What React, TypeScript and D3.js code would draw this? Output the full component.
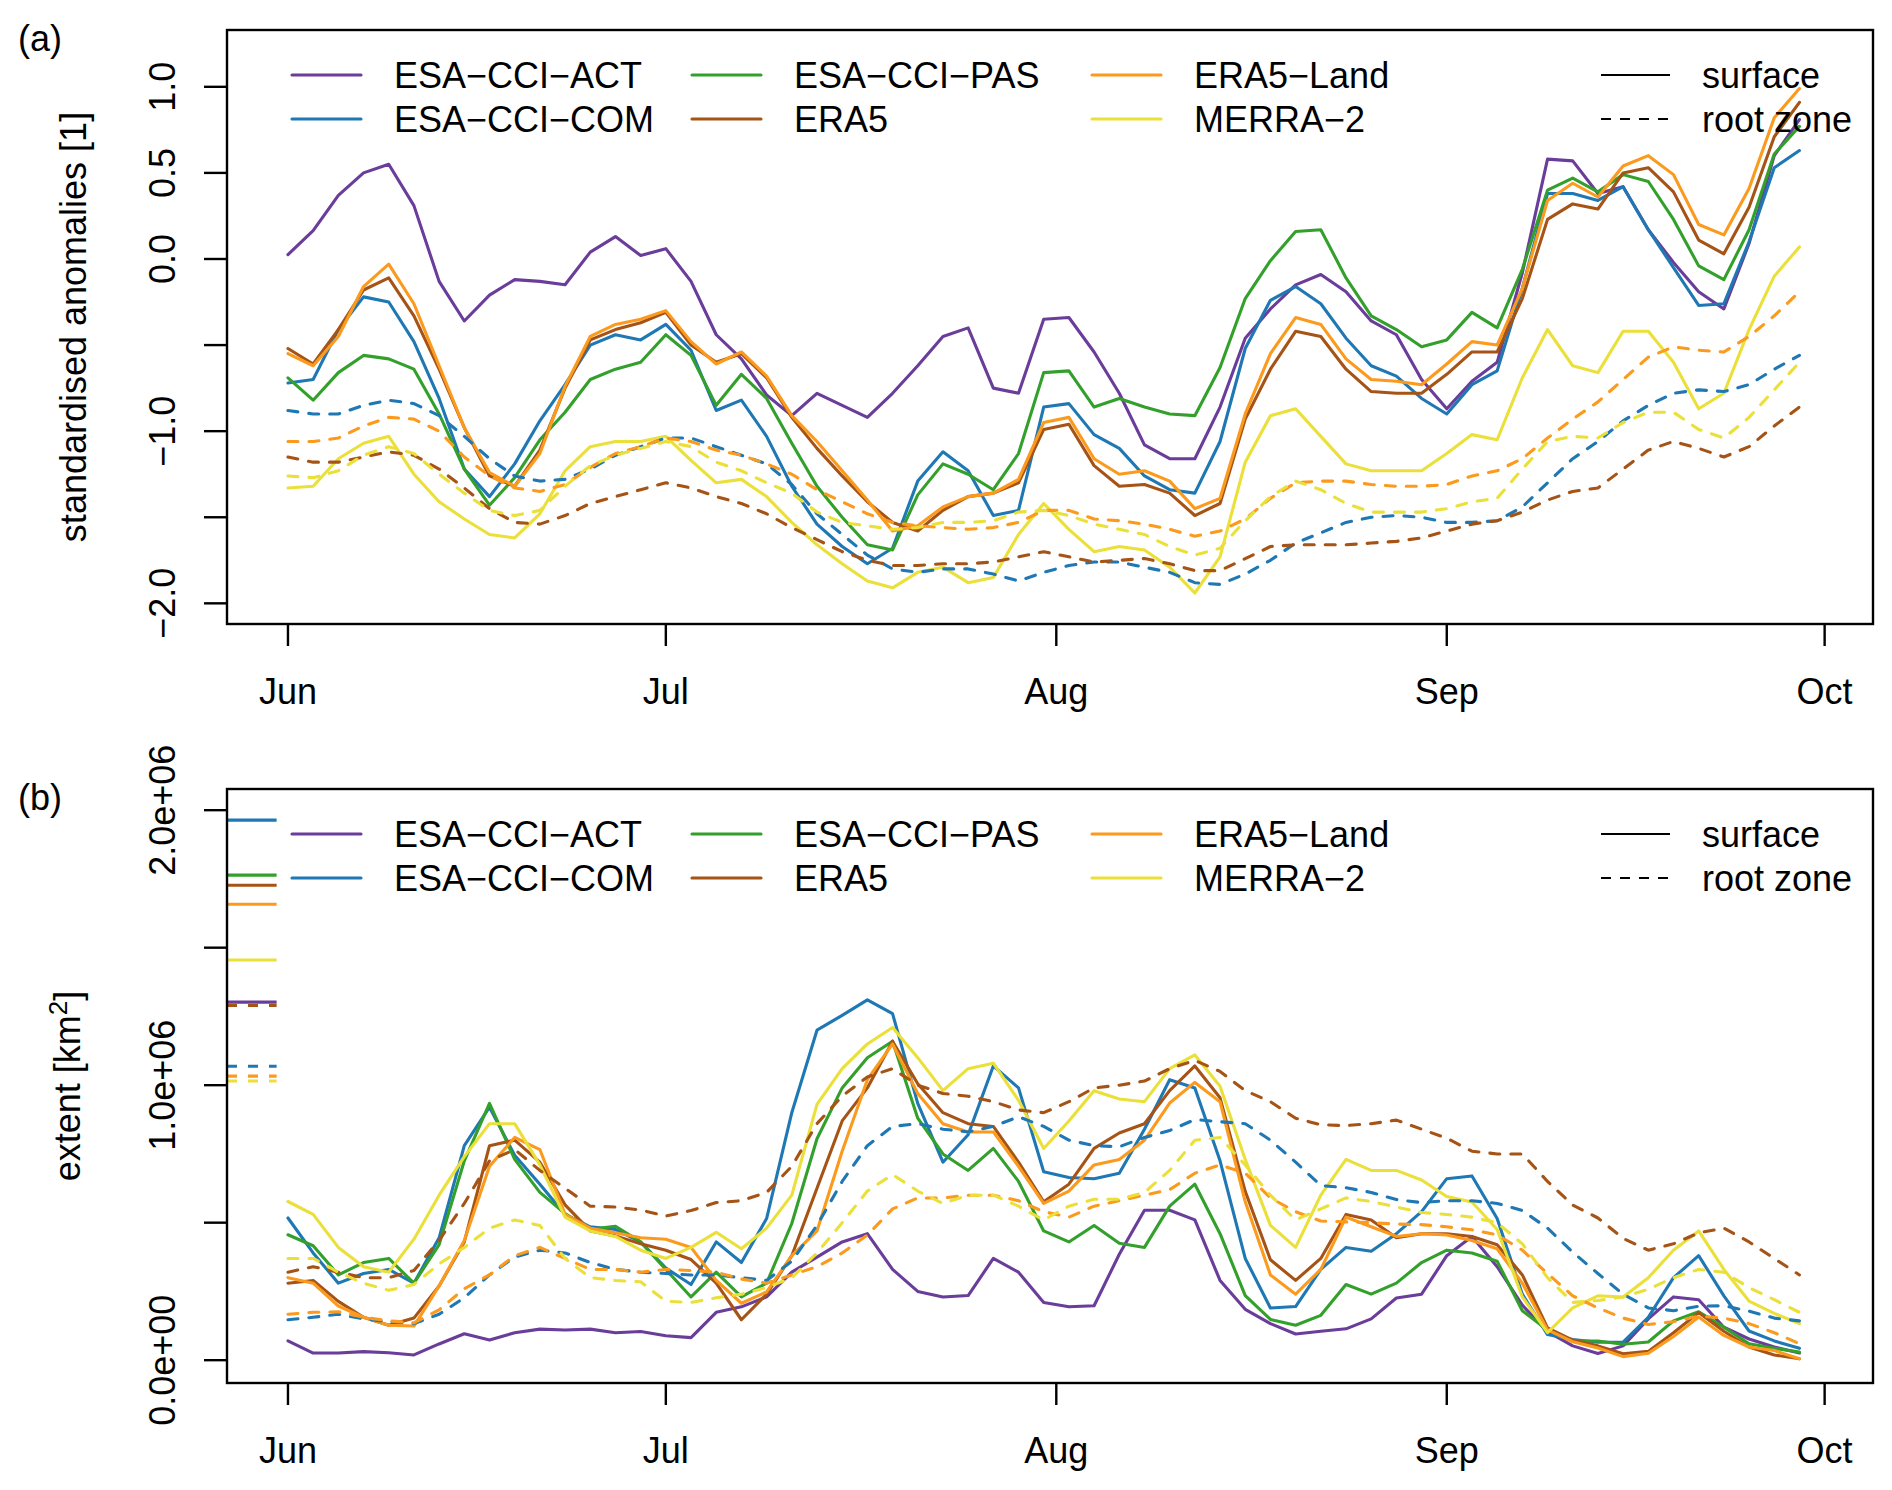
import React from 'react';
import * as d3 from 'd3';

// sample days counted from 1 June (every second day up to 29 September)
const days = d3.range(0, 121, 2);

const monthTicks = [0, 30, 61, 92, 122];
const monthLabels = ['Jun', 'Jul', 'Aug', 'Sep', 'Oct'];

const productNames = ['ESA\u2212CCI\u2212ACT', 'ESA\u2212CCI\u2212COM', 'ESA\u2212CCI\u2212PAS', 'ERA5', 'ERA5\u2212Land', 'MERRA\u22122'];
const productColors = ['#6a3d9a', '#1f78b4', '#33a02c', '#a65316', '#fb9a1d', '#ebe03a'];

// (a) standardised anomalies, surface layer
const anomACT = [0.025, 0.165, 0.37, 0.50, 0.55, 0.31, -0.13, -0.36, -0.21, -0.12, -0.13, -0.15, 0.04, 0.13, 0.02, 0.06, -0.13, -0.44, -0.58, -0.79, -0.91,
  -0.78, -0.85, -0.92, -0.78, -0.62, -0.45, -0.40, -0.75, -0.78, -0.35, -0.34, -0.54, -0.78, -1.08, -1.16, -1.16, -0.86, -0.46, -0.29, -0.15,
  -0.09, -0.19, -0.36, -0.44, -0.70, -0.87, -0.71, -0.60, -0.08, 0.58, 0.57, 0.38, 0.42, 0.17, -0.02, -0.19, -0.29, 0.09, 0.60, 0.81];
const anomCOM = [-0.72, -0.70, -0.41, -0.22, -0.25, -0.48, -0.81, -1.22, -1.38, -1.19, -0.94, -0.73, -0.50, -0.44, -0.47, -0.38, -0.53, -0.88, -0.82, -1.03, -1.32,
  -1.54, -1.67, -1.77, -1.68, -1.29, -1.12, -1.23, -1.49, -1.46, -0.86, -0.84, -1.02, -1.10, -1.26, -1.34, -1.36, -1.06, -0.52, -0.24, -0.16,
  -0.26, -0.46, -0.62, -0.68, -0.81, -0.90, -0.73, -0.65, -0.17, 0.38, 0.38, 0.34, 0.42, 0.17, -0.05, -0.27, -0.26, 0.10, 0.53, 0.63];
const anomPAS = [-0.69, -0.82, -0.66, -0.56, -0.58, -0.64, -0.90, -1.22, -1.43, -1.27, -1.05, -0.89, -0.70, -0.64, -0.60, -0.44, -0.56, -0.85, -0.67, -0.81, -1.07,
  -1.32, -1.50, -1.66, -1.69, -1.37, -1.19, -1.25, -1.34, -1.13, -0.66, -0.65, -0.86, -0.81, -0.86, -0.90, -0.91, -0.63, -0.23, -0.01, 0.16,
  0.17, -0.11, -0.33, -0.41, -0.51, -0.47, -0.31, -0.40, -0.06, 0.40, 0.47, 0.39, 0.49, 0.45, 0.23, -0.04, -0.12, 0.17, 0.61, 0.77];
const anomERA5 = [-0.52, -0.61, -0.41, -0.18, -0.11, -0.33, -0.64, -0.98, -1.26, -1.32, -1.11, -0.75, -0.47, -0.41, -0.37, -0.31, -0.50, -0.60, -0.55, -0.69, -0.92,
  -1.10, -1.26, -1.41, -1.53, -1.58, -1.46, -1.38, -1.36, -1.30, -0.99, -0.96, -1.20, -1.32, -1.31, -1.36, -1.49, -1.42, -0.93, -0.64, -0.42,
  -0.45, -0.64, -0.77, -0.78, -0.78, -0.67, -0.54, -0.54, -0.23, 0.23, 0.32, 0.29, 0.50, 0.53, 0.39, 0.11, 0.03, 0.30, 0.71, 0.91];
const anomERA5L = [-0.55, -0.62, -0.45, -0.16, -0.03, -0.26, -0.62, -0.98, -1.24, -1.32, -1.13, -0.74, -0.45, -0.38, -0.35, -0.30, -0.48, -0.61, -0.54, -0.68, -0.91,
  -1.06, -1.23, -1.40, -1.58, -1.55, -1.44, -1.38, -1.36, -1.28, -0.95, -0.92, -1.16, -1.25, -1.23, -1.29, -1.45, -1.39, -0.90, -0.55, -0.34,
  -0.38, -0.58, -0.70, -0.71, -0.73, -0.61, -0.48, -0.50, -0.17, 0.34, 0.44, 0.36, 0.54, 0.60, 0.49, 0.20, 0.14, 0.41, 0.82, 0.99];
const anomMERRA = [-1.33, -1.32, -1.16, -1.07, -1.03, -1.25, -1.41, -1.51, -1.60, -1.62, -1.48, -1.23, -1.09, -1.06, -1.06, -1.03, -1.17, -1.30, -1.28, -1.38, -1.53,
  -1.66, -1.77, -1.87, -1.91, -1.82, -1.79, -1.88, -1.85, -1.60, -1.42, -1.57, -1.70, -1.67, -1.69, -1.79, -1.94, -1.73, -1.18, -0.91, -0.87,
  -1.03, -1.19, -1.23, -1.23, -1.23, -1.13, -1.02, -1.05, -0.69, -0.41, -0.62, -0.66, -0.42, -0.42, -0.60, -0.87, -0.78, -0.41, -0.10, 0.07];

// (a) standardised anomalies, root zone
const anomRootCOM = [-0.88, -0.90, -0.90, -0.85, -0.82, -0.84, -0.91, -1.03, -1.16, -1.26, -1.29, -1.28, -1.22, -1.14, -1.09, -1.04, -1.04, -1.09, -1.14, -1.19, -1.31,
  -1.48, -1.60, -1.72, -1.80, -1.82, -1.80, -1.80, -1.83, -1.87, -1.82, -1.78, -1.76, -1.76, -1.79, -1.82, -1.88, -1.89, -1.83, -1.75, -1.65,
  -1.59, -1.53, -1.50, -1.49, -1.50, -1.53, -1.53, -1.52, -1.44, -1.30, -1.16, -1.06, -0.94, -0.85, -0.78, -0.76, -0.77, -0.73, -0.64, -0.56];
const anomRootERA5 = [-1.15, -1.18, -1.18, -1.15, -1.12, -1.14, -1.22, -1.33, -1.45, -1.53, -1.54, -1.49, -1.42, -1.38, -1.34, -1.30, -1.33, -1.38, -1.42, -1.48, -1.56,
  -1.63, -1.70, -1.75, -1.78, -1.78, -1.77, -1.77, -1.76, -1.73, -1.70, -1.73, -1.76, -1.75, -1.74, -1.77, -1.81, -1.81, -1.74, -1.67, -1.66,
  -1.66, -1.66, -1.65, -1.64, -1.62, -1.58, -1.54, -1.52, -1.47, -1.40, -1.35, -1.33, -1.22, -1.11, -1.06, -1.10, -1.15, -1.09, -0.97, -0.86];
const anomRootERA5L = [-1.06, -1.06, -1.04, -0.97, -0.92, -0.93, -1.00, -1.15, -1.26, -1.33, -1.35, -1.31, -1.21, -1.13, -1.09, -1.04, -1.06, -1.11, -1.14, -1.19, -1.25,
  -1.34, -1.41, -1.48, -1.53, -1.55, -1.56, -1.57, -1.56, -1.53, -1.46, -1.46, -1.51, -1.52, -1.54, -1.57, -1.61, -1.58, -1.51, -1.39, -1.30,
  -1.29, -1.29, -1.31, -1.32, -1.32, -1.31, -1.26, -1.23, -1.16, -1.04, -0.93, -0.83, -0.70, -0.57, -0.51, -0.53, -0.54, -0.45, -0.33, -0.19];
const anomRootMERRA = [-1.26, -1.27, -1.23, -1.14, -1.09, -1.13, -1.25, -1.36, -1.46, -1.49, -1.46, -1.32, -1.20, -1.14, -1.10, -1.06, -1.09, -1.18, -1.23, -1.30, -1.36,
  -1.47, -1.53, -1.55, -1.57, -1.56, -1.53, -1.53, -1.52, -1.47, -1.46, -1.49, -1.54, -1.57, -1.60, -1.67, -1.72, -1.68, -1.52, -1.38, -1.29,
  -1.34, -1.42, -1.47, -1.47, -1.47, -1.45, -1.41, -1.39, -1.22, -1.06, -1.03, -1.04, -0.95, -0.89, -0.89, -0.99, -1.04, -0.92, -0.76, -0.60];

// (b) drought extent in million km2, surface layer
const extACT = [0.07, 0.026, 0.026, 0.031, 0.027, 0.019, 0.059, 0.096, 0.073, 0.10, 0.113, 0.11, 0.113, 0.10, 0.104, 0.089, 0.082, 0.174, 0.194, 0.23, 0.32,
  0.375, 0.43, 0.46, 0.33, 0.25, 0.23, 0.235, 0.37, 0.32, 0.21, 0.194, 0.198, 0.385, 0.545, 0.545, 0.51, 0.29, 0.185, 0.133, 0.095,
  0.105, 0.114, 0.15, 0.226, 0.24, 0.38, 0.45, 0.34, 0.20, 0.104, 0.052, 0.024, 0.052, 0.15, 0.23, 0.22, 0.12, 0.077, 0.048, 0.026];
const extCOM = [0.517, 0.39, 0.28, 0.315, 0.33, 0.28, 0.445, 0.78, 0.92, 0.745, 0.64, 0.53, 0.485, 0.475, 0.43, 0.335, 0.275, 0.43, 0.355, 0.515, 0.90,
  1.20, 1.254, 1.31, 1.26, 0.934, 0.72, 0.82, 1.07, 0.99, 0.685, 0.664, 0.66, 0.68, 0.84, 1.02, 0.99, 0.725, 0.37, 0.19, 0.195,
  0.33, 0.41, 0.396, 0.46, 0.54, 0.66, 0.67, 0.515, 0.24, 0.093, 0.075, 0.065, 0.066, 0.156, 0.30, 0.38, 0.234, 0.106, 0.07, 0.043];
const extPAS = [0.456, 0.416, 0.31, 0.355, 0.37, 0.28, 0.42, 0.725, 0.934, 0.73, 0.61, 0.533, 0.476, 0.487, 0.43, 0.33, 0.23, 0.32, 0.23, 0.28, 0.497,
  0.805, 0.99, 1.10, 1.16, 0.88, 0.75, 0.69, 0.77, 0.65, 0.47, 0.43, 0.49, 0.425, 0.41, 0.56, 0.64, 0.46, 0.235, 0.148, 0.127,
  0.163, 0.275, 0.24, 0.28, 0.355, 0.40, 0.39, 0.36, 0.18, 0.11, 0.07, 0.07, 0.058, 0.066, 0.143, 0.176, 0.12, 0.06, 0.043, 0.03];
const extERA5 = [0.28, 0.29, 0.214, 0.156, 0.127, 0.153, 0.27, 0.43, 0.78, 0.80, 0.72, 0.565, 0.47, 0.452, 0.423, 0.40, 0.366, 0.28, 0.147, 0.24, 0.38,
  0.625, 0.87, 0.99, 1.16, 1.005, 0.90, 0.86, 0.85, 0.72, 0.576, 0.64, 0.77, 0.826, 0.86, 0.98, 1.07, 0.954, 0.614, 0.365, 0.29,
  0.37, 0.53, 0.51, 0.445, 0.46, 0.46, 0.45, 0.42, 0.31, 0.117, 0.073, 0.052, 0.023, 0.032, 0.10, 0.173, 0.105, 0.048, 0.019, 0.005];
const extERA5L = [0.30, 0.28, 0.197, 0.156, 0.127, 0.124, 0.27, 0.435, 0.705, 0.81, 0.766, 0.53, 0.48, 0.463, 0.445, 0.44, 0.41, 0.29, 0.207, 0.248, 0.38,
  0.47, 0.76, 1.02, 1.15, 0.97, 0.86, 0.83, 0.83, 0.705, 0.57, 0.615, 0.71, 0.73, 0.80, 0.935, 1.01, 0.94, 0.576, 0.31, 0.24,
  0.33, 0.52, 0.485, 0.45, 0.46, 0.455, 0.435, 0.405, 0.28, 0.11, 0.067, 0.044, 0.013, 0.025, 0.086, 0.157, 0.09, 0.048, 0.035, 0.005];
const extMERRA = [0.577, 0.53, 0.41, 0.34, 0.32, 0.44, 0.60, 0.74, 0.86, 0.86, 0.71, 0.52, 0.47, 0.45, 0.40, 0.37, 0.41, 0.465, 0.405, 0.48, 0.60,
  0.93, 1.06, 1.15, 1.21, 1.10, 0.98, 1.06, 1.08, 0.945, 0.77, 0.87, 0.98, 0.95, 0.94, 1.06, 1.11, 0.996, 0.73, 0.49, 0.41,
  0.60, 0.73, 0.69, 0.69, 0.655, 0.595, 0.575, 0.475, 0.23, 0.10, 0.19, 0.234, 0.23, 0.30, 0.40, 0.47, 0.33, 0.215, 0.17, 0.133];

// (b) drought extent in million km2, root zone
const extRootCOM = [0.147, 0.156, 0.167, 0.15, 0.14, 0.133, 0.167, 0.227, 0.31, 0.375, 0.40, 0.39, 0.355, 0.33, 0.32, 0.315, 0.31, 0.31, 0.30, 0.29, 0.36,
  0.49, 0.65, 0.78, 0.85, 0.86, 0.84, 0.83, 0.85, 0.885, 0.85, 0.80, 0.78, 0.776, 0.81, 0.835, 0.875, 0.867, 0.86, 0.80, 0.72,
  0.635, 0.627, 0.61, 0.584, 0.573, 0.58, 0.58, 0.57, 0.544, 0.48, 0.393, 0.315, 0.24, 0.19, 0.18, 0.196, 0.198, 0.178, 0.153, 0.143];
const extRootERA5 = [0.32, 0.34, 0.32, 0.30, 0.30, 0.326, 0.436, 0.57, 0.725, 0.766, 0.69, 0.625, 0.56, 0.557, 0.546, 0.524, 0.544, 0.573, 0.58, 0.61, 0.705,
  0.86, 0.96, 1.03, 1.06, 1.00, 0.97, 0.96, 0.94, 0.91, 0.90, 0.94, 0.99, 1.00, 1.015, 1.06, 1.09, 1.05, 0.98, 0.94, 0.88,
  0.856, 0.853, 0.86, 0.873, 0.84, 0.807, 0.76, 0.75, 0.75, 0.65, 0.564, 0.517, 0.443, 0.40, 0.423, 0.463, 0.48, 0.43, 0.37, 0.31];
const extRootERA5L = [0.167, 0.174, 0.176, 0.156, 0.143, 0.136, 0.183, 0.26, 0.31, 0.38, 0.41, 0.37, 0.33, 0.33, 0.32, 0.33, 0.326, 0.32, 0.295, 0.28, 0.31,
  0.34, 0.39, 0.455, 0.55, 0.59, 0.59, 0.60, 0.60, 0.58, 0.54, 0.52, 0.56, 0.58, 0.60, 0.62, 0.68, 0.71, 0.68, 0.59, 0.54,
  0.506, 0.503, 0.50, 0.495, 0.493, 0.485, 0.474, 0.456, 0.40, 0.315, 0.234, 0.19, 0.153, 0.13, 0.14, 0.16, 0.153, 0.133, 0.10, 0.06];
const extRootMERRA = [0.37, 0.37, 0.32, 0.28, 0.254, 0.275, 0.35, 0.41, 0.48, 0.51, 0.49, 0.37, 0.30, 0.29, 0.285, 0.214, 0.21, 0.227, 0.24, 0.264, 0.30,
  0.39, 0.50, 0.615, 0.675, 0.615, 0.57, 0.60, 0.60, 0.56, 0.51, 0.56, 0.585, 0.585, 0.61, 0.69, 0.80, 0.81, 0.71, 0.60, 0.51,
  0.55, 0.59, 0.577, 0.557, 0.537, 0.53, 0.52, 0.50, 0.423, 0.30, 0.21, 0.217, 0.23, 0.258, 0.30, 0.33, 0.32, 0.264, 0.22, 0.174];

// (b) short marks at the left edge, million km2
const coverSurface = [1.302, 1.964, 1.764, 1.727, 1.658, 1.455];
const coverRoot = [1.069, 1.29, 1.033, 1.015]; // COM, ERA5, ERA5-Land, MERRA-2
const rootProducts = [1, 3, 4, 5];

const FONT = '"Liberation Sans", Arial, Helvetica, sans-serif';
const FS = 36;
const LW = 3.1;
const DASH = '10 11';
const boxLeft = 227;
const boxRight = 1873;
const boxH = 594;

const fmtAnom = d3.format('.1f');
const fmtSci = (v: number) => {
  const [m, e] = d3.format('.1e')(v).split('e');
  const sign = e.startsWith('-') || e.startsWith('\u2212') ? '-' : '+';
  return `${m}e${sign}${e.replace(/[+\-\u2212]/, '').padStart(2, '0')}`;
};

interface PanelProps {
  top: number;
  tag: string;
  yDomain: [number, number];
  unit: number;
  yTicks: number[];
  yLabels: number[];
  fmt: (v: number) => string;
  title: React.ReactNode;
  titleX: number;
  surface: number[][];
  root: number[][];
  cover?: boolean;
}

const Panel: React.FC<PanelProps> = ({ top, tag, yDomain, unit, yTicks, yLabels, fmt, title, titleX, surface, root, cover }) => {
  const x = d3.scaleLinear().domain([-4.84, 125.84]).range([boxLeft, boxRight]);
  const y = d3.scaleLinear().domain(yDomain).range([top + boxH, top]);
  const line = d3.line<number>()
    .x((_, i) => x(days[i]))
    .y(d => y(d * unit));
  const bottom = top + boxH;

  const legendCols = [
    [0, 1],
    [2, 3],
    [4, 5],
  ];
  const colX = [292, 692, 1092];
  const rowY = [top + 45, top + 89];

  return (
    <g>
      <text x={18} y={top + 21} fontSize={FS}>{tag}</text>

      {/* series */}
      <g fill="none" strokeWidth={LW} strokeLinejoin="round" strokeLinecap="round">
        {surface.map((s, i) => (
          <path key={'s' + i} d={line(s) || ''} stroke={productColors[i]} />
        ))}
        {root.map((s, i) => (
          <path key={'r' + i} d={line(s) || ''} stroke={productColors[rootProducts[i]]} strokeDasharray={DASH} />
        ))}
      </g>

      {cover && (
        <g strokeWidth={LW}>
          {coverSurface.map((v, i) => (
            <line key={'cs' + i} x1={x(-4.84)} x2={x(-0.9)} y1={y(v * unit)} y2={y(v * unit)} stroke={productColors[i]} />
          ))}
          {coverRoot.map((v, i) => (
            <line key={'cr' + i} x1={x(-4.84)} x2={x(-0.9)} y1={y(v * unit)} y2={y(v * unit)}
              stroke={productColors[rootProducts[i]]} strokeDasharray={DASH} />
          ))}
        </g>
      )}

      {/* legend */}
      {legendCols.map((col, c) => col.map((p, r) => (
        <g key={'l' + p}>
          <line x1={colX[c]} x2={colX[c] + 69} y1={rowY[r]} y2={rowY[r]} stroke={productColors[p]} strokeWidth={LW} strokeLinecap="round" />
          <text x={colX[c] + 102} y={rowY[r] + 13} fontSize={FS}>{productNames[p]}</text>
        </g>
      )))}
      <line x1={1601} x2={1670} y1={rowY[0]} y2={rowY[0]} stroke="black" strokeWidth={2.2} />
      <text x={1702} y={rowY[0] + 13} fontSize={FS}>surface</text>
      <line x1={1601} x2={1670} y1={rowY[1]} y2={rowY[1]} stroke="black" strokeWidth={2.2} strokeDasharray="10 9" />
      <text x={1702} y={rowY[1] + 13} fontSize={FS}>root zone</text>

      {/* frame and axes */}
      <rect x={boxLeft} y={top} width={boxRight - boxLeft} height={boxH} fill="none" stroke="black" strokeWidth={2.4} />
      {yTicks.map(t => (
        <line key={'yt' + t} x1={boxLeft - 23} x2={boxLeft} y1={y(t * unit)} y2={y(t * unit)} stroke="black" strokeWidth={2.4} />
      ))}
      {yLabels.map(t => (
        <text key={'yl' + t} transform={`translate(175,${y(t * unit)}) rotate(-90)`} textAnchor="middle" fontSize={FS}>{fmt(t * unit)}</text>
      ))}
      {monthTicks.map((t, i) => (
        <g key={'xt' + t}>
          <line x1={x(t)} x2={x(t)} y1={bottom} y2={bottom + 22} stroke="black" strokeWidth={2.4} />
          <text x={x(t)} y={bottom + 80} textAnchor="middle" fontSize={FS}>{monthLabels[i]}</text>
        </g>
      ))}
      <text transform={`translate(${titleX},${top + boxH / 2}) rotate(-90)`} textAnchor="middle" fontSize={FS}>{title}</text>
    </g>
  );
};

export default function App() {
  return (
    <div style={{ position: 'absolute', left: 0, top: 0, background: 'white' }}>
      <svg width={1892} height={1490} viewBox="0 0 1892 1490" fontFamily={FONT} style={{ display: 'block' }}>
        <rect width={1892} height={1490} fill="white" />
        <Panel
          top={30}
          tag="(a)"
          yDomain={[-2.12, 1.33]}
          unit={1}
          yTicks={[-2, -1.5, -1, -0.5, 0, 0.5, 1]}
          yLabels={[-2, -1, 0, 0.5, 1]}
          fmt={fmtAnom}
          title="standardised anomalies [1]"
          titleX={86}
          surface={[anomACT, anomCOM, anomPAS, anomERA5, anomERA5L, anomMERRA]}
          root={[anomRootCOM, anomRootERA5, anomRootERA5L, anomRootMERRA]}
        />
        <Panel
          top={789}
          tag="(b)"
          yDomain={[-0.083e6, 2.077e6]}
          unit={1e6}
          yTicks={[0, 0.5, 1, 1.5, 2]}
          yLabels={[0, 1, 2]}
          fmt={fmtSci}
          title={<>extent [km<tspan fontSize={26} dy={-13}>2</tspan><tspan dy={13}>]</tspan></>}
          titleX={80}
          surface={[extACT, extCOM, extPAS, extERA5, extERA5L, extMERRA]}
          root={[extRootCOM, extRootERA5, extRootERA5L, extRootMERRA]}
          cover
        />
      </svg>
    </div>
  );
}
